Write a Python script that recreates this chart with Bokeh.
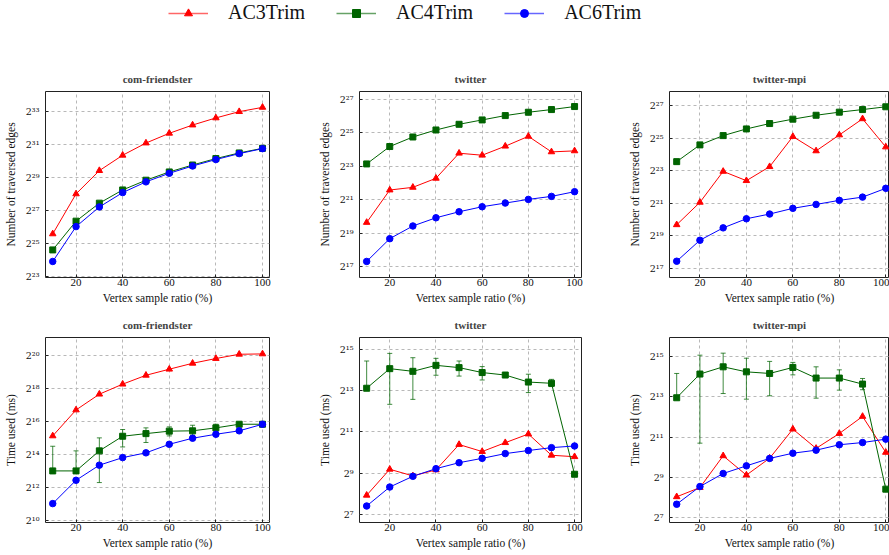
import numpy as np
from bokeh.plotting import figure
from bokeh.models import (Range1d, FixedTicker, CustomJSTickFormatter,
                          Whisker, TeeHead, ColumnDataSource, Legend, LegendItem)
from bokeh.layouts import column, row
from bokeh.embed import file_html
from bokeh.resources import INLINE

# ---------------- data (values are log2 exponents) ----------------
ratio = [10, 20, 30, 40, 50, 60, 70, 80, 90, 100]
series_names = ["AC3Trim", "AC4Trim", "AC6Trim"]
x_ticks = [20, 40, 60, 80, 100]

# Number of traversed edges
cf_edges_ac3 = [25.58, 28.00, 29.41, 30.34, 31.08, 31.67, 32.17, 32.60, 32.98, 33.24]
cf_edges_ac4 = [24.61, 26.35, 27.44, 28.24, 28.83, 29.33, 29.75, 30.14, 30.48, 30.76]
cf_edges_ac6 = [23.91, 26.02, 27.21, 28.08, 28.73, 29.25, 29.69, 30.08, 30.44, 30.74]

tw_edges_ac3 = [19.65, 21.59, 21.75, 22.29, 23.79, 23.67, 24.21, 24.80, 23.87, 23.93]
tw_edges_ac4 = [23.15, 24.19, 24.76, 25.18, 25.52, 25.78, 26.04, 26.24, 26.40, 26.58]
tw_edges_ac6 = [17.32, 18.68, 19.44, 19.93, 20.29, 20.59, 20.81, 21.03, 21.21, 21.49]

mpi_edges_ac3 = [19.67, 21.05, 22.95, 22.38, 23.24, 25.09, 24.21, 25.19, 26.18, 24.45]
mpi_edges_ac4 = [23.55, 24.58, 25.15, 25.56, 25.89, 26.16, 26.40, 26.59, 26.75, 26.92]
mpi_edges_ac6 = [17.43, 18.72, 19.48, 20.04, 20.33, 20.68, 20.92, 21.17, 21.37, 21.91]

# Time used (ms)
cf_time_ac3 = [15.13, 16.71, 17.67, 18.28, 18.82, 19.19, 19.55, 19.84, 20.10, 20.12]
cf_time_ac4 = [13.00, 13.00, 14.22, 15.11, 15.27, 15.42, 15.44, 15.62, 15.84, 15.84]
cf_time_ac4_lo = [13.00, 13.00, 12.29, 14.46, 14.73, 15.13, 15.17, 15.44, 15.75, 15.78]
cf_time_ac4_hi = [14.50, 14.22, 15.01, 15.52, 15.62, 15.68, 15.78, 15.84, 15.92, 15.90]
cf_time_ac6 = [11.01, 12.43, 13.35, 13.81, 14.10, 14.62, 14.99, 15.23, 15.44, 15.84]
cf_time_ac6_lo = [10.88, 12.33, 13.25, 13.72, 14.00, 14.50, 14.88, 15.12, 15.33, 15.78]
cf_time_ac6_hi = [11.14, 12.53, 13.45, 13.92, 14.20, 14.72, 15.08, 15.33, 15.54, 15.90]

tw_time_ac3 = [7.92, 9.18, 8.86, 9.15, 10.38, 10.04, 10.47, 10.89, 9.86, 9.79]
tw_time_ac4 = [13.11, 14.06, 13.93, 14.22, 14.11, 13.87, 13.75, 13.41, 13.35, 8.94]
tw_time_ac4_lo = [13.11, 12.33, 12.57, 13.74, 13.70, 13.51, 13.65, 12.90, 13.19, 8.90]
tw_time_ac4_hi = [14.43, 14.80, 14.59, 14.56, 14.43, 14.16, 13.85, 13.79, 13.54, 9.00]
tw_time_ac6 = [7.40, 8.32, 8.84, 9.21, 9.50, 9.71, 9.94, 10.09, 10.23, 10.31]

mpi_time_ac3 = [8.03, 8.49, 10.07, 9.11, 9.95, 11.40, 10.44, 11.18, 12.03, 10.24]
mpi_time_ac4 = [12.96, 14.14, 14.50, 14.25, 14.17, 14.47, 13.94, 13.94, 13.64, 8.41]
mpi_time_ac4_lo = [12.96, 10.70, 13.17, 12.89, 13.06, 14.10, 12.94, 13.34, 13.36, 8.35]
mpi_time_ac4_hi = [14.17, 15.08, 15.18, 14.93, 14.77, 14.72, 14.50, 14.35, 13.92, 8.47]
mpi_time_ac6 = [7.66, 8.54, 9.19, 9.57, 9.94, 10.20, 10.35, 10.62, 10.73, 10.90]
mpi_time_ac6_lo = [7.54, 8.45, 9.12, 9.50, 9.89, 10.15, 10.30, 10.57, 10.68, 10.85]
mpi_time_ac6_hi = [7.78, 8.62, 9.26, 9.64, 9.99, 10.25, 10.40, 10.67, 10.78, 10.95]

# ---------------- style ----------------
FONT = "Liberation Serif"
TICKFONT = "DejaVu Serif"
COLORS = ["#ff0000", "#006400", "#0000ff"]
MARKERS = ["triangle", "square", "circle"]
MSIZE = [6.5, 6, 6.5]

sup_code = """
const sup = {'0':'\u2070','1':'\u00b9','2':'\u00b2','3':'\u00b3','4':'\u2074',
             '5':'\u2075','6':'\u2076','7':'\u2077','8':'\u2078','9':'\u2079','-':'\u207b'};
const e = Math.round(Math.log2(tick));
return '2' + String(e).split('').map(c => sup[c]).join('');
"""


def make_fig(title, ylabel, xr, yr, yexp, width, height, left, right, top, bottom):
    yt = [2.0 ** k for k in yexp]
    p = figure(width=width, height=height, x_range=Range1d(*xr),
               y_range=Range1d(2.0 ** yr[0], 2.0 ** yr[1]), y_axis_type="log",
               output_backend="svg", toolbar_location=None,
               min_border_left=left, min_border_right=right,
               min_border_top=top, min_border_bottom=bottom, title=title)
    p.title.text_font = FONT
    p.title.text_font_size = "11px"
    p.title.text_font_style = "bold"
    p.title.align = "center"
    p.title.standoff = 13
    p.outline_line_color = "#222222"
    p.outline_line_width = 1
    p.background_fill_color = "white"
    p.border_fill_color = "white"

    p.xaxis.ticker = FixedTicker(ticks=x_ticks)
    p.yaxis.ticker = FixedTicker(ticks=yt)
    p.yaxis.formatter = CustomJSTickFormatter(code=sup_code)
    for ax in (p.xaxis[0], p.yaxis[0]):
        ax.major_tick_in = 3
        ax.major_tick_out = 0
        ax.minor_tick_line_color = None
        ax.axis_line_color = None
        ax.major_tick_line_color = "#222222"
        ax.major_label_text_font = FONT
        ax.major_label_text_font_size = "11px"
        ax.major_label_text_color = "#111111"
        ax.axis_label_text_font = FONT
        ax.axis_label_text_font_size = "11.5px"
        ax.axis_label_text_font_style = "normal"
        ax.axis_label_text_color = "#111111"
    p.yaxis.major_label_text_font = TICKFONT
    p.yaxis.major_label_text_font_size = "9.5px"
    p.xaxis.major_label_standoff = 1
    p.xaxis.axis_label_standoff = 3
    p.yaxis.major_label_standoff = 6
    p.yaxis.axis_label_standoff = 6
    p.xaxis.axis_label = "Vertex sample ratio (%)"
    p.yaxis.axis_label = ylabel

    p.xgrid.ticker = FixedTicker(ticks=x_ticks)
    p.ygrid.ticker = FixedTicker(ticks=yt)
    for g in (p.xgrid[0], p.ygrid[0]):
        g.grid_line_color = "#b8b8b8"
        g.grid_line_dash = "3 3"
        g.grid_line_width = 1
    return p


def add_series(p, ys, errs):
    for i, y in enumerate(ys):
        yv = 2.0 ** np.array(y)
        e = errs[i]
        if e is not None:
            src = ColumnDataSource(dict(x=ratio, lo=2.0 ** np.array(e[0]), hi=2.0 ** np.array(e[1])))
            w = Whisker(source=src, base="x", lower="lo", upper="hi",
                        line_color=COLORS[i], line_alpha=0.75, line_width=1,
                        upper_head=TeeHead(size=5, line_color=COLORS[i], line_alpha=0.75, line_width=1),
                        lower_head=TeeHead(size=5, line_color=COLORS[i], line_alpha=0.75, line_width=1))
            p.add_layout(w)
        p.line(ratio, yv, line_color=COLORS[i], line_width=1)
        p.scatter(ratio, yv, marker=MARKERS[i], size=MSIZE[i], fill_color=COLORS[i],
                  line_color=COLORS[i])


EL = "Number of traversed edges"
TL = "Time used (ms)"
XR12 = (6.9, 103.0)
XR3 = (6.9, 101.6)

f1 = make_fig("com-friendster", EL, XR12, (22.94, 34.2), [23, 25, 27, 29, 31, 33], 315, 249, 45, 46, 32, 31)
f2 = make_fig("twitter", EL, XR12, (16.36, 27.48), [17, 19, 21, 23, 25, 27], 310, 249, 42, 44, 32, 31)
f3 = make_fig("twitter-mpi", EL, XR3, (16.43, 27.86), [17, 19, 21, 23, 25, 27], 264, 249, 43, 0, 32, 31)
f4 = make_fig("com-friendster", TL, XR12, (9.86, 21.12), [10, 12, 14, 16, 18, 20], 315, 247, 45, 46, 29, 33)
f5 = make_fig("twitter", TL, XR12, (6.6, 15.57), [7, 9, 11, 13, 15], 310, 247, 42, 44, 29, 33)
f6 = make_fig("twitter-mpi", TL, XR3, (6.75, 15.96), [7, 9, 11, 13, 15], 264, 247, 43, 0, 29, 33)

add_series(f1, [cf_edges_ac3, cf_edges_ac4, cf_edges_ac6], [None, None, None])
add_series(f2, [tw_edges_ac3, tw_edges_ac4, tw_edges_ac6], [None, None, None])
add_series(f3, [mpi_edges_ac3, mpi_edges_ac4, mpi_edges_ac6], [None, None, None])
add_series(f4, [cf_time_ac3, cf_time_ac4, cf_time_ac6],
           [None, (cf_time_ac4_lo, cf_time_ac4_hi), (cf_time_ac6_lo, cf_time_ac6_hi)])
add_series(f5, [tw_time_ac3, tw_time_ac4, tw_time_ac6],
           [None, (tw_time_ac4_lo, tw_time_ac4_hi), None])
add_series(f6, [mpi_time_ac3, mpi_time_ac4, mpi_time_ac6],
           [None, (mpi_time_ac4_lo, mpi_time_ac4_hi), (mpi_time_ac6_lo, mpi_time_ac6_hi)])

# ---------------- legend strip ----------------
lf = figure(width=889, height=59, output_backend="svg", toolbar_location=None,
            x_range=Range1d(0, 1), y_range=Range1d(0, 1), min_border=0,
            x_axis_location=None, y_axis_location=None)
lf.grid.visible = False
lf.outline_line_color = None
items = []
for i, name in enumerate(series_names):
    # one off-screen point each, only so that the legend draws its glyphs
    ln = lf.line(x=[-5, -4], y=[-5, -4], line_color=COLORS[i], line_width=1.5, line_alpha=0.6)
    mk = lf.scatter(x=[-5], y=[-5], marker=MARKERS[i], size=10, fill_color=COLORS[i], line_color=COLORS[i])
    items.append(LegendItem(label=name, renderers=[ln, mk]))
legend = Legend(items=items, orientation="horizontal", location=(168, 35),
                glyph_width=40, glyph_height=20, label_height=20, label_standoff=20,
                spacing=31, padding=0, margin=0, border_line_color=None,
                background_fill_alpha=0, label_text_font=FONT, label_text_font_size="20px",
                label_text_color="#111111")
lf.add_layout(legend)

layout = column(lf, row(f1, f2, f3), row(f4, f5, f6))

open("out.html", "w").write(file_html(layout, INLINE))
